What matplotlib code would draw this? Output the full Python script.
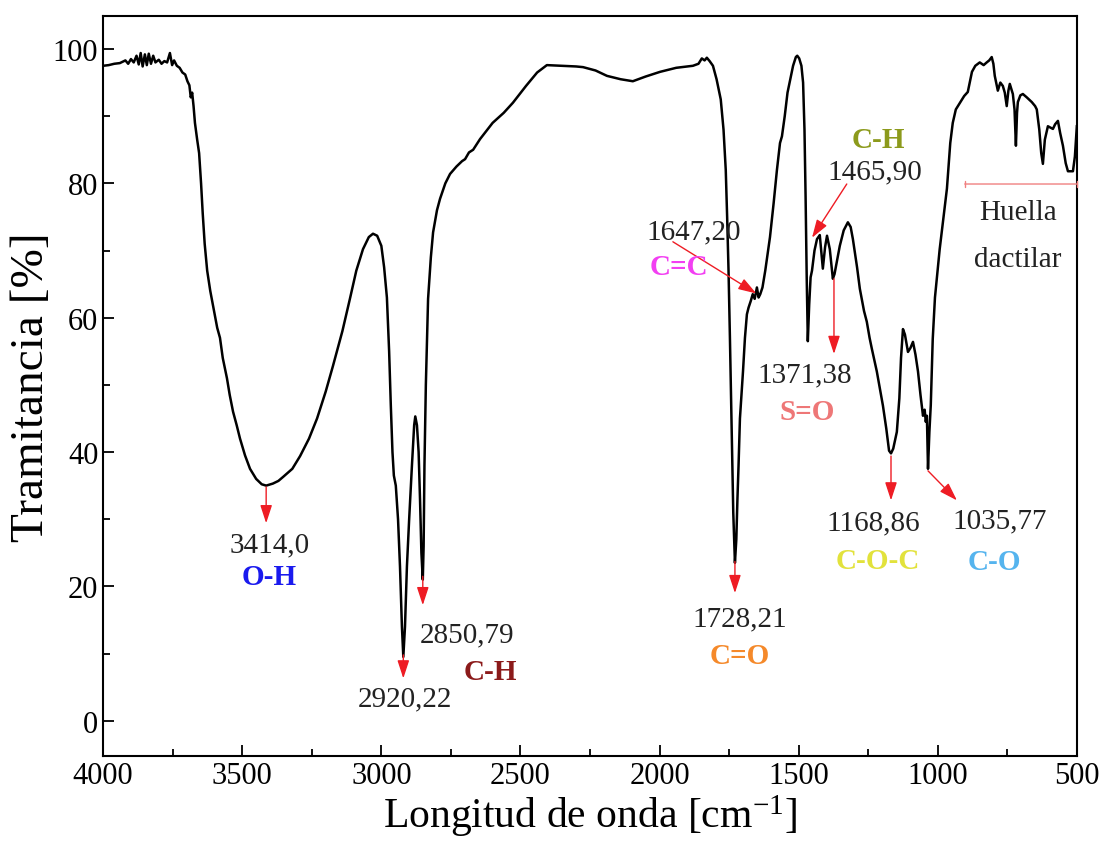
import matplotlib
matplotlib.use("Agg")
import matplotlib.pyplot as plt


# FTIR spectrum
WAVENUMBER = [
    4000, 3980, 3960, 3940, 3920, 3910, 3900, 3890, 3880, 3872, 3865, 3858, 3850, 3843, 3836, 3828,
    3820, 3812, 3800, 3790, 3780, 3770, 3760, 3752, 3745, 3735, 3725, 3715, 3705, 3697, 3690, 3685,
    3680, 3675, 3670, 3662, 3655, 3648, 3642, 3635, 3626, 3615, 3605, 3590, 3580, 3570, 3555, 3545,
    3533, 3520, 3508, 3490, 3472, 3450, 3430, 3414, 3390, 3370, 3353, 3320, 3292, 3260, 3231, 3200,
    3174, 3140, 3113, 3090, 3066, 3045, 3030, 3015, 3000, 2990, 2980, 2972, 2966, 2960, 2955, 2948,
    2940, 2933, 2926, 2921, 2915, 2908, 2900, 2890, 2882, 2878, 2872, 2866, 2861, 2856, 2851, 2848,
    2845, 2840, 2832, 2822, 2814, 2800, 2789, 2770, 2753, 2730, 2710, 2699, 2685, 2670, 2645, 2600,
    2560, 2527, 2480, 2440, 2405, 2350, 2300, 2275, 2230, 2189, 2140, 2096, 2050, 1998, 1940, 1880,
    1860, 1848, 1838, 1830, 1820, 1808, 1795, 1780, 1770, 1762, 1757, 1752, 1747, 1740, 1735, 1729,
    1724, 1720, 1716, 1711, 1700, 1693, 1686, 1680, 1672, 1665, 1658, 1650, 1644, 1638, 1630, 1620,
    1603, 1590, 1578, 1567, 1560, 1550, 1540, 1530, 1520, 1510, 1505, 1498, 1490, 1484, 1479, 1475,
    1471, 1467, 1462, 1457, 1452, 1443, 1434, 1424, 1418, 1413, 1405, 1398, 1388, 1377, 1371, 1362,
    1352, 1338, 1323, 1313, 1305, 1290, 1280, 1265, 1255, 1245, 1237, 1219, 1197, 1185, 1175, 1168,
    1160, 1147, 1138, 1132, 1125, 1118, 1107, 1098, 1089, 1080, 1071, 1062, 1053, 1047, 1043, 1039,
    1035, 1030, 1025, 1018, 1010, 1003, 993, 985, 967, 955, 946, 935, 920, 905, 892, 885,
    877, 865, 849, 835, 824, 815, 806, 800, 795, 784, 775, 766, 759, 752, 746, 741,
    735, 730, 724, 719, 715, 712, 703, 694, 680, 662, 650, 644, 635, 628, 622, 615,
    604, 595, 586, 578, 568, 560, 550, 540, 532, 520, 514, 507, 500,
]
TRANSMITTANCE = [
    97.5, 97.6, 97.8, 97.9, 98.3, 97.8, 98.5, 98.0, 99.0, 97.7, 99.4, 97.4, 99.2, 97.6, 99.3, 97.8,
    99.0, 98.0, 98.4, 97.8, 98.2, 98.0, 99.4, 97.6, 98.3, 97.5, 97.2, 96.5, 96.2, 95.2, 94.6, 92.8,
    93.5, 91.5, 89.0, 86.5, 84.5, 80.0, 75.5, 71.0, 67.0, 64.0, 61.8, 58.5, 57.0, 54.0, 51.0, 48.5,
    46.0, 44.0, 42.0, 39.5, 37.5, 36.0, 35.2, 35.0, 35.3, 35.7, 36.3, 37.5, 39.4, 42.0, 45.0, 49.0,
    52.8, 58.0, 62.8, 67.0, 70.2, 72.0, 72.5, 72.2, 70.7, 67.5, 63.0, 55.0, 47.0, 40.0, 36.5, 35.0,
    30.0, 23.0, 14.0, 9.5, 14.0, 23.0, 30.0, 38.0, 44.0, 45.3, 44.0, 40.0, 33.0, 25.0, 21.0, 26.0,
    38.0, 50.0, 62.8, 69.0, 72.7, 76.0, 77.7, 80.0, 81.4, 82.5, 83.3, 83.6, 84.6, 85.0, 86.6, 89.0,
    90.5, 92.0, 94.5, 96.5, 97.6, 97.5, 97.4, 97.3, 96.8, 96.0, 95.5, 95.2, 95.9, 96.6, 97.2, 97.5,
    97.8, 98.6, 98.3, 98.7, 98.2, 97.5, 95.5, 92.5, 88.0, 82.0, 75.0, 67.0, 57.0, 42.0, 31.0, 23.5,
    27.0, 33.0, 38.0, 45.0, 52.0, 57.0, 60.5, 61.5, 62.5, 63.5, 62.8, 64.5, 63.0, 63.5, 64.5, 67.0,
    72.0, 77.0, 82.0, 86.0, 87.0, 90.0, 93.5, 95.5, 97.5, 98.8, 99.0, 98.6, 97.5, 95.0, 88.0, 78.0,
    66.0, 56.5, 62.0, 66.0, 67.0, 70.0, 71.7, 72.3, 69.5, 67.3, 70.5, 72.2, 70.2, 65.8, 66.5, 68.5,
    70.7, 73.0, 74.2, 73.5, 71.7, 67.5, 64.3, 61.0, 59.4, 57.0, 55.4, 52.0, 46.9, 43.5, 40.2, 39.8,
    40.5, 43.0, 48.0, 54.0, 58.3, 57.5, 54.9, 55.5, 56.4, 54.5, 52.0, 48.5, 45.4, 46.3, 44.5, 45.4,
    37.5, 43.0, 47.0, 56.8, 63.0, 66.0, 70.2, 73.0, 79.2, 86.0, 89.0, 91.0, 92.0, 93.0, 93.6, 95.0,
    96.6, 97.5, 98.0, 97.6, 98.0, 98.3, 98.8, 97.8, 96.0, 93.8, 95.0, 94.5, 93.5, 91.5, 93.8, 94.8,
    94.0, 93.3, 91.0, 85.6, 90.5, 92.1, 93.1, 93.3, 92.8, 92.1, 91.5, 91.0, 88.0, 84.5, 82.9, 86.5,
    88.5, 88.3, 88.1, 88.8, 89.3, 87.5, 85.6, 83.0, 81.8, 81.8, 81.8, 84.0, 88.5,
]

# peak annotations: arrow start (x, y) -> arrow tip (x, y)
ARROW_START = [(3414, 34.8), (2921, 9.8), (2851, 21.5), (1729, 23.7), (1952, 71.3),
               (1327, 79.9), (1373, 65.8), (1168, 39.4), (1035, 37.2)]
ARROW_TIP = [(3414, 29.4), (2921, 6.3), (2851, 17.2), (1729, 19.0), (1652, 63.6),
             (1452, 71.9), (1373, 54.6), (1168, 32.8), (931, 32.8)]

PEAK_LABELS = ["3414,0", "2920,22", "2850,79", "1728,21", "1647,20",
               "1465,90", "1371,38", "1168,86", "1035,77"]
PEAK_LABEL_POS = [(3400, 26.3), (2915, 3.3), (2692, 12.9), (1711, 15.2), (1876, 72.9),
                  (1226, 81.8), (1477, 51.6), (1233, 29.6), (778, 29.8)]

GROUP_LABELS = ["O-H", "C-H", "C=O", "C=C", "C-H", "S=O", "C-O-C", "C-O"]
GROUP_POS = [(3404, 21.4), (2609, 7.4), (1711, 9.7), (1930, 67.6), (1215, 86.6),
             (1470, 46.0), (1215, 23.8), (795, 23.7)]
GROUP_COLORS = ["#1a1aee", "#8b1a1a", "#f5892a", "#f23ff2", "#8c9a1c",
                "#ee7777", "#e2e23c", "#55b4ee"]

HUELLA_RANGE = (903, 500)
HUELLA_Y = 79.9


def main() -> None:
    plt.rcParams["font.family"] = ["Liberation Serif", "DejaVu Serif"]
    plt.rcParams["mathtext.default"] = "regular"

    fig = plt.figure(figsize=(11.09, 8.54), dpi=100)
    ax = fig.add_axes([0.093, 0.114, 0.878, 0.866])

    ax.plot(WAVENUMBER, TRANSMITTANCE, color="black", lw=1.8)

    for start, tip in zip(ARROW_START, ARROW_TIP):
        ax.annotate("", xy=tip, xytext=start,
                    arrowprops=dict(arrowstyle="-|>,head_length=0.55,head_width=0.18",
                                    color="#ee1c24", lw=1.0, mutation_scale=20,
                                    shrinkA=0, shrinkB=0))

    for text, (x, y) in zip(PEAK_LABELS, PEAK_LABEL_POS):
        ax.text(x, y, text, ha="center", va="center", fontsize=21, color="#222222")

    for text, (x, y), c in zip(GROUP_LABELS, GROUP_POS, GROUP_COLORS):
        ax.text(x, y, text, ha="center", va="center", fontsize=21, fontweight="bold", color=c)

    # fingerprint region marker
    ax.annotate("", xy=(HUELLA_RANGE[1], HUELLA_Y), xytext=(HUELLA_RANGE[0], HUELLA_Y),
                arrowprops=dict(arrowstyle="|-|,widthA=0.2,widthB=0.2", color="#f08080",
                                lw=1.0, shrinkA=0, shrinkB=0))
    ax.text(712, 75.7, "Huella", ha="center", va="center", fontsize=21, color="#222222")
    ax.text(712, 68.8, "dactilar", ha="center", va="center", fontsize=21, color="#222222")

    ax.set_xlim(4000, 500)
    ax.set_ylim(-5.2, 104.9)
    ax.set_xticks(range(4000, 499, -500))
    ax.set_xticks(range(3750, 500, -500), minor=True)
    ax.set_yticks(range(0, 101, 20))
    ax.set_yticks(range(10, 100, 20), minor=True)
    ax.tick_params(which="both", direction="in", labelsize=22, width=1.3, top=False, right=False)
    ax.tick_params(which="major", length=8)
    ax.tick_params(which="minor", length=5)
    for spine in ax.spines.values():
        spine.set_linewidth(1.5)

    ax.set_xlabel("Longitud de onda [cm$^{-1}$]", fontsize=30, labelpad=2)
    ax.set_ylabel("Tramitancia [%]", fontsize=34, labelpad=0)

    fig.savefig("out.png", dpi=100)
    plt.close(fig)


if __name__ == "__main__":
    main()
